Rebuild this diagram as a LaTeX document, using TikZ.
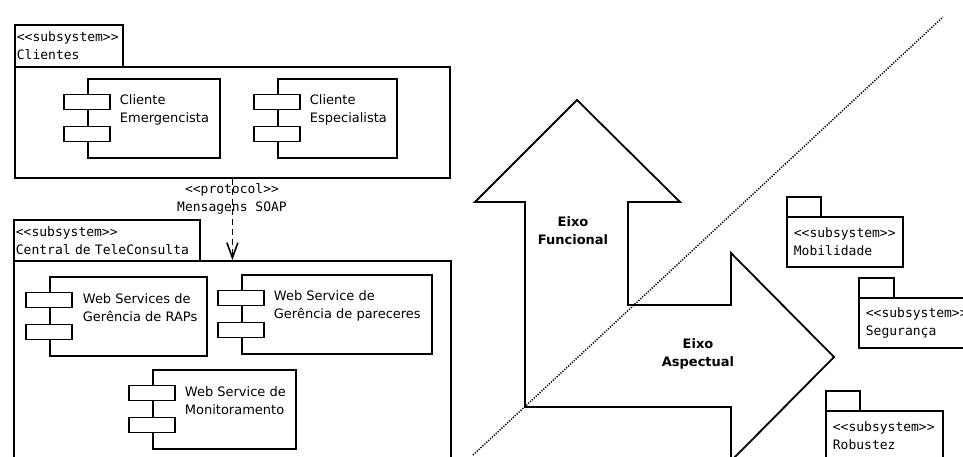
\documentclass[tikz,border=0pt]{standalone}
\usepackage{fontspec}
\setmainfont{DejaVu Sans}
\setmonofont{DejaVu Sans Mono}
\usetikzlibrary{arrows.meta,positioning,calc}
\newcommand{\stlabel}[1]{<{}<#1>{}>}

\begin{document}
\begin{tikzpicture}[x=1pt,y=-1pt,line width=1.8pt,
  pkgtab/.style={draw,fill=white,anchor=north west,inner sep=0pt},
  pkgbody/.style={draw,fill=white,anchor=north west,inner sep=0pt},
  compbody/.style={draw,fill=white,anchor=north west,inner sep=0pt},
  port/.style={draw,fill=white,minimum width=46pt,minimum height=15pt,inner sep=0pt},
  mono/.style={font=\fontsize{13}{18}\selectfont\ttfamily,align=left},
  complabel/.style={font=\fontsize{13}{18}\selectfont,align=left,anchor=west,inner sep=0pt},
  eixo/.style={font=\fontsize{13}{18}\selectfont\bfseries,align=center,inner sep=0pt}]

  \useasboundingbox (0,0) rectangle (963,456);
  \clip (0,0) rectangle (963,456);

  % subsystem Clientes
  \node[pkgtab,mono,minimum width=108pt,minimum height=42pt,text width=104pt]
       (clitab) at (14,24) {\stlabel{subsystem}\\Clientes};
  \node[pkgbody,minimum width=435pt,minimum height=111pt] (cli) at (14,66) {};

  \node[compbody,minimum width=132pt,minimum height=79pt] (ce) at (87,78) {};
  \node[compbody,minimum width=119pt,minimum height=79pt] (cs) at (277,78) {};
  \node[complabel] (ce-txt) at (119,110) {Cliente\\Emergencista};
  \node[complabel] (cs-txt) at (309,110) {Cliente\\Especialista};

  % subsystem Central de TeleConsulta
  \node[pkgtab,mono,minimum width=186pt,minimum height=41pt,text width=182pt]
       (centab) at (13,219) {\stlabel{subsystem}\\Central de TeleConsulta};
  \node[pkgbody,minimum width=437pt,minimum height=220pt] (cen) at (13,260) {};

  \node[compbody,minimum width=157pt,minimum height=79pt] (rap) at (49,276) {};
  \node[compbody,minimum width=190pt,minimum height=79pt] (par) at (241,274) {};
  \node[compbody,minimum width=143pt,minimum height=79pt] (mon) at (152,369) {};
  \node[complabel] (rap-txt) at (82,308) {Web Services de\\Gerência de RAPs};
  \node[complabel] (par-txt) at (273,306) {Web Service de\\Gerência de pareceres};
  \node[complabel] (mon-txt) at (184,401) {Web Service de\\Monitoramento};

  \foreach \c in {ce,cs,rap,par,mon} {
    \node[port] (\c-p1) at ($(\c.north west)+(0,24)$) {};
    \node[port] (\c-p2) at ($(\c.north west)+(0,56)$) {};
  }

  % protocol
  \draw[dash pattern=on 6pt off 4pt,-{Straight Barb[length=15pt,width=11pt,line width=1.6pt]}]
       (cli.south) -- (cen.north);
  \node[mono,align=center,inner sep=0pt] (proto) at (232,199)
       {\stlabel{protocol}\\Mensagens SOAP};

  % eixos
  \draw[fill=white,line join=miter]
       (525,407) -- (525,202) -- (475,202) -- (577,100) -- (680,202) -- (628,202)
    -- (628,305) -- (731,305) -- (731,253) -- (834,357) -- (731,461) -- (731,407) -- cycle;
  \node[eixo] (func) at (573,231) {Eixo\\Funcional};
  \node[eixo] (asp) at (698,354) {Eixo\\Aspectual};

  \coordinate (d1) at (473,455);
  \coordinate (d2) at (943,17);
  \draw[line width=1.5pt,dash pattern=on 1.2pt off 1.4pt] (d1) -- (d2);

  % aspectos
  \node[pkgtab,minimum width=34pt,minimum height=20pt] (mobtab) at (786,196) {};
  \node[pkgbody,mono,minimum width=116pt,minimum height=50pt,text width=102pt,inner xsep=7pt]
       (mob) at (786,216) {\stlabel{subsystem}\\Mobilidade};
  \node[pkgtab,minimum width=35pt,minimum height=20pt] (segtab) at (858,277) {};
  \node[pkgbody,mono,minimum width=117pt,minimum height=50pt,text width=103pt,inner xsep=7pt]
       (seg) at (858,297) {\stlabel{subsystem}\\Segurança};
  \node[pkgtab,minimum width=34pt,minimum height=20pt] (robtab) at (825,390) {};
  \node[pkgbody,mono,minimum width=117pt,minimum height=50pt,text width=103pt,inner xsep=7pt]
       (rob) at (825,410) {\stlabel{subsystem}\\Robustez};

\end{tikzpicture}
\end{document}
